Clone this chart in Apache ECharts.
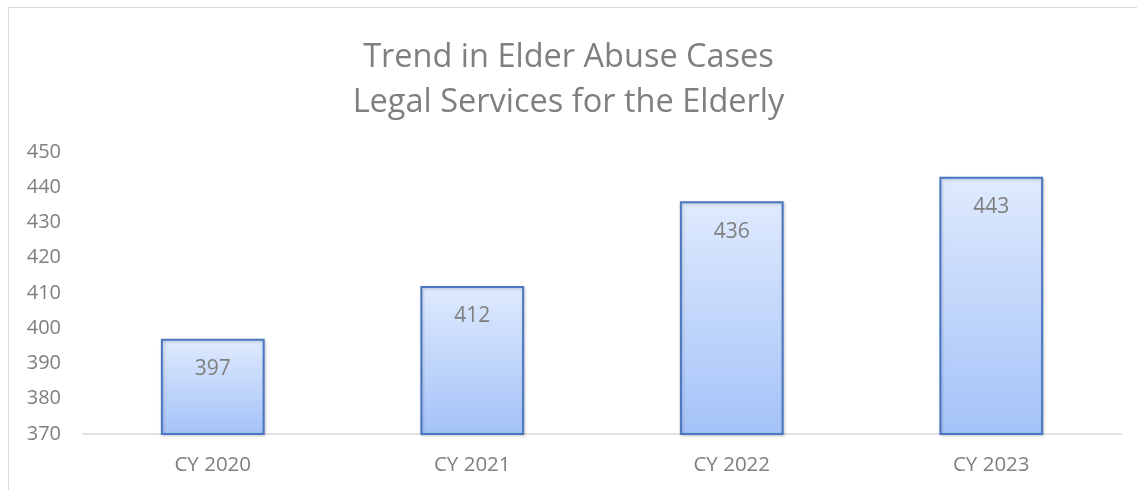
<!DOCTYPE html>
<html><head><meta charset="utf-8">
<script src="https://cdn.jsdelivr.net/npm/echarts@6/dist/echarts.min.js"></script>
<style>html,body{margin:0;padding:0;background:#fff}#c{width:1137px;height:490px}</style>
</head><body><div id="c"></div>
<script>
const categories = ['CY 2020', 'CY 2021', 'CY 2022', 'CY 2023'];
const cases = [397, 412, 436, 443];
const yTicks = { min: 370, max: 450, interval: 10 };
const titleLines = ['Trend in Elder Abuse Cases', 'Legal Services for the Elderly'];

const chart = echarts.init(document.getElementById('c'));
const font = '"Open Sans", "Noto Sans", sans-serif';
chart.setOption({
  animation: false,
  graphic: [{
    type: 'rect', shape: { x: 8.5, y: 7.5, width: 1160, height: 520 },
    style: { fill: 'none', stroke: '#d9d9d9', lineWidth: 1 }, silent: true
  }],
  title: {
    text: titleLines.join('\n'), left: 'center', top: 30,
    textStyle: { color: '#7f7f7f', fontSize: 32.5, fontWeight: 'normal', fontFamily: font, lineHeight: 45 }
  },
  grid: { left: 83, right: 16, top: 152, bottom: 56, containLabel: false },
  xAxis: {
    type: 'category', data: categories,
    axisLine: { show: true, lineStyle: { color: '#d9d9d9', width: 1.5 } },
    axisTick: { show: false },
    axisLabel: { color: '#7f7f7f', fontSize: 20.5, fontFamily: font, margin: 21 }
  },
  yAxis: {
    type: 'value', min: yTicks.min, max: yTicks.max, interval: yTicks.interval,
    splitLine: { show: false }, axisLine: { show: false }, axisTick: { show: false },
    axisLabel: { color: '#7f7f7f', fontSize: 20, fontFamily: font, margin: 22 }
  },
  series: [{
    type: 'bar', data: cases, barWidth: '40%',
    itemStyle: {
      color: new echarts.graphic.LinearGradient(0, 0, 0, 1, [
        { offset: 0, color: '#dfeafd' }, { offset: 1, color: '#a4c2f8' }
      ]),
      borderColor: '#4a76c2', borderWidth: 2,
      shadowColor: 'rgba(0,0,0,0.2)', shadowBlur: 3, shadowOffsetX: 1, shadowOffsetY: 1
    },
    label: {
      show: true, position: 'insideTop', distance: 20,
      color: '#7f7f7f', fontSize: 21, fontFamily: font
    }
  }]
});
</script></body></html>
